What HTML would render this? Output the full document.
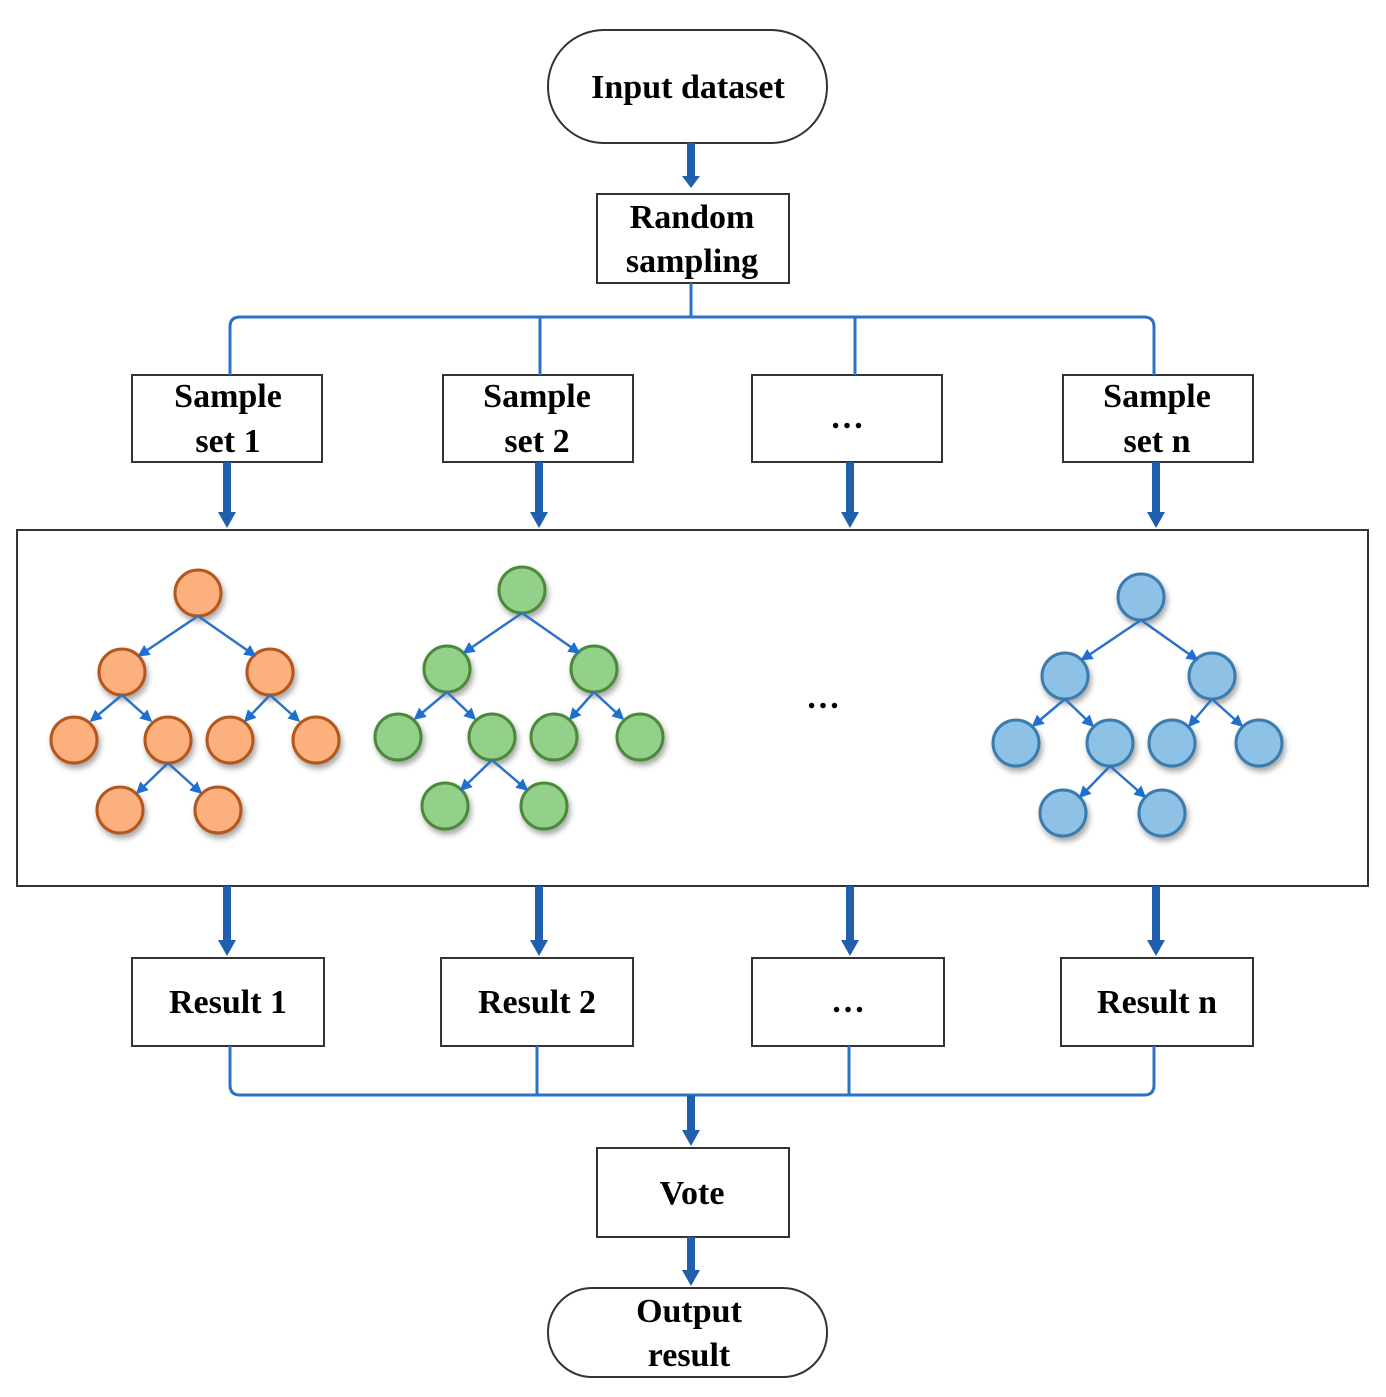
<!DOCTYPE html>
<html><head><style>body{margin:0;background:#fff}svg{display:block}</style></head><body>
<svg width="1386" height="1397" viewBox="0 0 1386 1397" xmlns="http://www.w3.org/2000/svg" style="font-family:'Liberation Serif',serif;font-weight:bold">
<defs>
<marker id="s" markerWidth="12" markerHeight="12" refX="9" refY="6" orient="auto" markerUnits="userSpaceOnUse" viewBox="0 0 12 12"><path d="M0,0L12,6L0,12z" fill="#1f6fd0"/></marker>
<filter id="sh" x="-30%" y="-30%" width="160%" height="160%"><feDropShadow dx="2" dy="4" stdDeviation="3" flood-color="#000" flood-opacity="0.35"/></filter>
</defs>
<g fill="none" stroke="#333" stroke-width="2">
<rect x="548" y="30" width="279" height="113" rx="56"/>
<rect x="597" y="194" width="192" height="89"/>
<rect x="132" y="375" width="190" height="87"/>
<rect x="443" y="375" width="190" height="87"/>
<rect x="752" y="375" width="190" height="87"/>
<rect x="1063" y="375" width="190" height="87"/>
<rect x="17" y="530" width="1351" height="356"/>
<rect x="132" y="958" width="192" height="88"/>
<rect x="441" y="958" width="192" height="88"/>
<rect x="752" y="958" width="192" height="88"/>
<rect x="1061" y="958" width="192" height="88"/>
<rect x="597" y="1148" width="192" height="89"/>
<rect x="548" y="1288" width="279" height="89" rx="44"/>
</g>
<g fill="none" stroke="#2b73c9" stroke-width="3">
<path d="M691,283V317M230,375V327Q230,317 240,317H1144Q1154,317 1154,327V375M540,317V375M855,317V375"/>
<path d="M230,1046V1085Q230,1095 240,1095H1144Q1154,1095 1154,1085V1046M537,1046V1095M849,1046V1095"/>
</g>
<g stroke="#1f5fae" stroke-width="8" fill="none">
<path d="M691,143V178M227,462V512M539,462V512M850,462V512M1156,462V512M227,886V940M539,886V940M850,886V940M1156,886V940M691,1095V1132M691,1237V1272"/>
</g>
<g fill="#1f5fae">
<path d="M682,176h18l-9,12z"/>
<path d="M218,512h18l-9,16z"/><path d="M530,512h18l-9,16z"/><path d="M841,512h18l-9,16z"/><path d="M1147,512h18l-9,16z"/>
<path d="M218,940h18l-9,16z"/><path d="M530,940h18l-9,16z"/><path d="M841,940h18l-9,16z"/><path d="M1147,940h18l-9,16z"/>
<path d="M682,1130h18l-9,16z"/><path d="M682,1270h18l-9,16z"/>
</g>
<g font-size="34" text-anchor="middle" fill="#000">
<text x="688" y="98">Input dataset</text>
<text x="692" y="228">Random</text><text x="692" y="272">sampling</text>
<text x="228" y="407">Sample</text><text x="228" y="452">set 1</text>
<text x="537" y="407">Sample</text><text x="537" y="452">set 2</text>
<text x="847" y="428">…</text>
<text x="1157" y="407">Sample</text><text x="1157" y="452">set n</text>
<text x="228" y="1013">Result 1</text>
<text x="537" y="1013">Result 2</text>
<text x="848" y="1012">…</text>
<text x="1157" y="1013">Result n</text>
<text x="692" y="1204">Vote</text>
<text x="689" y="1322">Output</text><text x="689" y="1366">result</text>
<text x="823" y="708">…</text>
</g>
<g stroke-width="3">
<g fill="#fbb07e" stroke="#b5561f" filter="url(#sh)">
<circle cx="198" cy="593" r="23"/><circle cx="122" cy="672" r="23"/><circle cx="270" cy="672" r="23"/>
<circle cx="74" cy="740" r="23"/><circle cx="168" cy="740" r="23"/><circle cx="230" cy="740" r="23"/><circle cx="316" cy="740" r="23"/>
<circle cx="120" cy="810" r="23"/><circle cx="218" cy="810" r="23"/>
</g>
<g fill="#93d08a" stroke="#4c8a3a" filter="url(#sh)">
<circle cx="522" cy="590" r="23"/><circle cx="447" cy="669" r="23"/><circle cx="594" cy="669" r="23"/>
<circle cx="398" cy="737" r="23"/><circle cx="492" cy="737" r="23"/><circle cx="554" cy="737" r="23"/><circle cx="640" cy="737" r="23"/>
<circle cx="445" cy="806" r="23"/><circle cx="544" cy="806" r="23"/>
</g>
<g fill="#8dc1e6" stroke="#3a7bae" filter="url(#sh)">
<circle cx="1141" cy="597" r="23"/><circle cx="1065" cy="676" r="23"/><circle cx="1212" cy="676" r="23"/>
<circle cx="1016" cy="743" r="23"/><circle cx="1110" cy="743" r="23"/><circle cx="1172" cy="743" r="23"/><circle cx="1259" cy="743" r="23"/>
<circle cx="1063" cy="813" r="23"/><circle cx="1162" cy="813" r="23"/>
</g>
<g stroke="#2b73c9" stroke-width="2.5" marker-end="url(#s)" fill="none">
<path d="M198,616L140,655"/><path d="M198,616L254,655"/><path d="M122,695L92,720"/><path d="M122,695L150,720"/><path d="M270,695L246,720"/><path d="M270,695L298,720"/><path d="M168,763L138,792"/><path d="M168,763L200,792"/>
<path d="M522,613L465,652"/><path d="M522,613L578,652"/><path d="M447,692L416,718"/><path d="M447,692L474,718"/><path d="M594,692L571,718"/><path d="M594,692L622,718"/><path d="M492,760L462,789"/><path d="M492,760L526,789"/>
<path d="M1141,620L1083,659"/><path d="M1141,620L1196,659"/><path d="M1065,699L1034,725"/><path d="M1065,699L1092,725"/><path d="M1212,699L1190,725"/><path d="M1212,699L1241,725"/><path d="M1110,766L1081,796"/><path d="M1110,766L1144,796"/>
</g>
</g>
</svg>
</body></html>
